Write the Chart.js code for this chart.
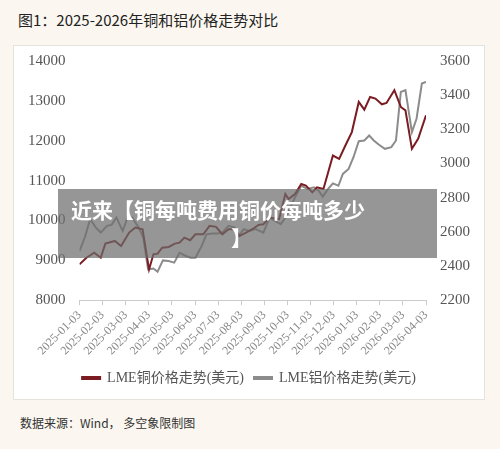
<!DOCTYPE html>
<html><head><meta charset="utf-8">
<script src="https://cdn.jsdelivr.net/npm/chart.js@4/dist/chart.umd.min.js"></script>
<style>
body{margin:0;width:500px;height:449px;background:#fbf7f0;position:relative;overflow:hidden;font-family:"Noto Sans CJK SC",sans-serif}
#title{position:absolute;left:18px;top:9px;font-size:15px;color:#222}
#box{position:absolute;left:13px;top:45px;width:470px;height:353px;background:#fff;border:1px solid #e6e2dc}
#foot{position:absolute;left:20px;top:414px;font-size:12px;color:#333;font-family:"Noto Sans CJK SC","DejaVu Sans Mono",monospace}
#band{position:absolute;left:58px;top:189px;width:379px;height:69px;background:rgba(110,110,110,0.72);color:#fff;font-weight:bold;font-size:21px;line-height:28px;padding:6px 0 0 13px;box-sizing:border-box}
</style></head><body>
<div id="title">图1：2025-2026年铜和铝价格走势对比</div>
<div id="box"><canvas id="c" width="470" height="353"></canvas></div>
<div id="foot">数据来源：Wind， 多空象限制图</div>
<div id="band">近来【铜每吨费用铜价每吨多少<br><span style="padding-left:160px">】</span></div>
<script>
// month labels on the x axis (0 = 2025-01-03)
const monthLabels = ['2025-01-03','2025-02-03','2025-03-03','2025-04-03','2025-05-03','2025-06-03','2025-07-03','2025-08-03','2025-09-03','2025-10-03','2025-11-03','2025-12-03','2026-01-03','2026-02-03','2026-03-03','2026-04-03'];

// copper: time in months since 2025-01-03, price USD/t
const copperT = [0,0.30,0.64,0.92,1.12,1.53,1.80,2.15,2.42,2.73,3.01,3.20,3.38,3.58,3.86,4.13,4.33,4.54,4.79,5.02,5.36,5.63,5.91,6.18,6.45,6.73,6.93,7.21,7.48,7.75,7.96,8.23,8.64,8.91,9.05,9.33,9.60,9.80,10.08,10.28,10.56,10.97,11.24,11.51,11.79,12.09,12.33,12.58,12.81,13.09,13.29,13.63,13.91,14.11,14.39,14.66,15.0];
const copperV = [8899,9067,9193,9067,9420,9487,9361,9697,9823,9781,8773,9151,9168,9319,9336,9420,9445,9571,9504,9655,9655,9865,9840,9655,9781,9781,9613,9697,9781,9890,9907,10075,10033,10663,10537,10663,10915,10873,10705,10831,10789,11629,11545,11881,12217,12973,12780,13099,13057,12914,12948,13267,12847,12763,11797,12049,12637];

// aluminium
const aluT = [0,0.23,0.46,0.71,0.92,1.19,1.39,1.60,1.87,2.08,2.28,2.56,2.76,2.97,3.20,3.38,3.61,3.86,4.10,4.33,4.61,4.81,5.02,5.29,5.50,5.77,5.98,6.18,6.45,6.73,6.89,7.11,7.34,7.62,7.96,8.23,8.44,8.71,8.92,9.12,9.33,9.60,9.87,10.15,10.35,10.53,10.76,10.97,11.21,11.40,11.65,11.86,12.09,12.33,12.54,12.74,12.95,13.22,13.50,13.70,13.91,14.11,14.39,14.59,14.82,15.0];
const aluV = [2488,2567,2674,2625,2596,2635,2641,2684,2606,2684,2684,2625,2567,2381,2386,2367,2433,2429,2420,2478,2459,2449,2449,2518,2586,2590,2590,2596,2635,2625,2576,2616,2606,2616,2596,2684,2665,2645,2684,2743,2802,2870,2851,2861,2841,2806,2851,2884,2870,2939,2968,3037,3131,3135,3164,3135,3111,3086,3096,3135,3419,3429,3184,3262,3468,3478];

const pts = (t, v) => t.map((x, i) => ({x: x, y: v[i]}));
const tickFont = {family: '"Liberation Serif", serif', size: 15};

new Chart(document.getElementById('c'), {
  type: 'line',
  data: {datasets: [
    {label: 'LME铜价格走势(美元)', data: pts(copperT, copperV), yAxisID: 'y', borderColor: '#7a1c22', backgroundColor: '#7a1c22', borderWidth: 2, pointRadius: 0, tension: 0},
    {label: 'LME铝价格走势(美元)', data: pts(aluT, aluV), yAxisID: 'y1', borderColor: '#8c8c8c', backgroundColor: '#8c8c8c', borderWidth: 2, pointRadius: 0, tension: 0}
  ]},
  options: {
    responsive: false, animation: false,
    layout: {padding: {left: 8, right: 8, top: 8, bottom: 4}},
    plugins: {legend: {position: 'bottom', labels: {boxWidth: 18, boxHeight: 2, color: '#555', font: {family: '"Liberation Serif","Noto Sans CJK SC", serif', size: 14}}}, tooltip: {enabled: false}},
    scales: {
      x: {type: 'linear', min: 0, max: 15,
        ticks: {stepSize: 1, autoSkip: false, maxRotation: 45, minRotation: 45, color: '#888', font: {family: '"Liberation Serif", serif', size: 12}, callback: v => monthLabels[v]},
        grid: {drawOnChartArea: false, tickLength: 5, color: '#ccc'}, border: {color: '#ccc'}},
      y: {min: 8000, max: 14000, ticks: {stepSize: 1000, color: '#555', font: tickFont, padding: 6, callback: v => String(v)}, grid: {display: false}, border: {display: false}},
      y1: {position: 'right', min: 2200, max: 3600, ticks: {stepSize: 200, color: '#555', font: tickFont, padding: 6, callback: v => String(v)}, grid: {display: false}, border: {display: false}}
    }
  }
});
</script>
</body></html>
